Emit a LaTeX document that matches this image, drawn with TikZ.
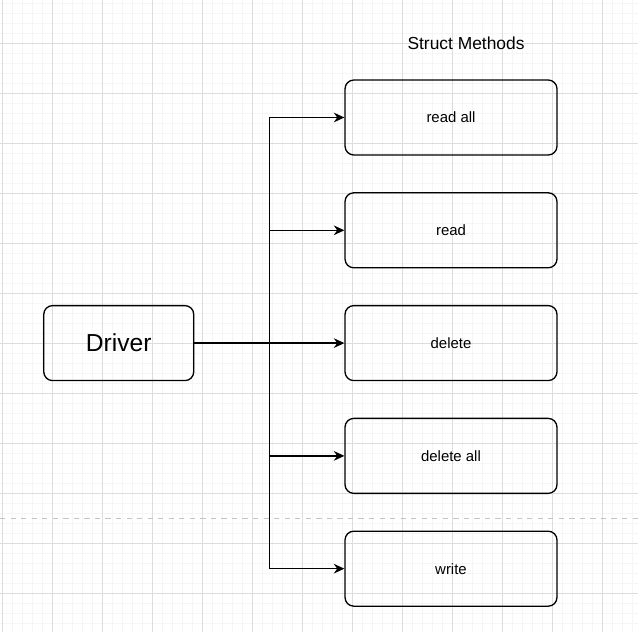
\documentclass[tikz,border=0pt]{standalone}
\usepackage{fontspec}
\setmainfont{Liberation Sans}
\usetikzlibrary{arrows.meta,positioning,calc}
\definecolor{gridminor}{HTML}{F5F5F5}
\definecolor{gridmajor}{HTML}{DDDDDD}
\definecolor{pageline}{HTML}{C4C4C4}
\tikzset{
    every picture/.style={line width=0.75pt},
    method/.style={draw, rounded corners=5pt, minimum width=4.24cm, minimum height=1.5cm, font=\fontsize{8.5}{10}\selectfont},
    driverbox/.style={draw, rounded corners=5pt, minimum width=3cm, minimum height=1.5cm, font=\fontsize{14}{16}\selectfont},
    link/.style={-{Stealth[length=6pt,width=5.5pt]}},
}

\begin{document}
\begin{tikzpicture}[x=0.02cm,y=-0.02cm]
    % canvas and grid
    \useasboundingbox (0,0) rectangle (638,632);
    \fill[white] (0,0) rectangle (638,632);
    \foreach \gx in {2,12,...,632} \draw[gridminor, line width=0.4pt] (\gx,0) -- (\gx,632);
    \foreach \gy in {3,13,...,632} \draw[gridminor, line width=0.4pt] (0,\gy) -- (638,\gy);
    \foreach \gx in {2,52,...,632} \draw[gridmajor, line width=0.5pt] (\gx,0) -- (\gx,632);
    \foreach \gy in {43,93,...,632} \draw[gridmajor, line width=0.5pt] (0,\gy) -- (638,\gy);
    \draw[pageline, dashed, line width=0.5pt] (0,518) -- (638,518);

    % nodes
    \node[method] (readall) at (451,117.5) {read all};
    \node[method, below=0.73cm of readall] (read) {read};
    \node[method, below=0.73cm of read] (delete) {delete};
    \node[method, below=0.73cm of delete] (deleteall) {delete all};
    \node[method, below=0.73cm of deleteall] (write) {write};
    \node[driverbox, left=3cm of delete] (driver) {Driver};
    \node[font=\fontsize{9.9}{12}\selectfont] (title) at (466,43) {Struct Methods};

    % connectors
    \coordinate (split) at ($(driver.east)+(75,0)$);
    \draw (driver.east) -- (split);
    \foreach \m in {readall,read,delete,deleteall,write}
        \draw[link] (split) |- (\m.west);
\end{tikzpicture}
\end{document}
